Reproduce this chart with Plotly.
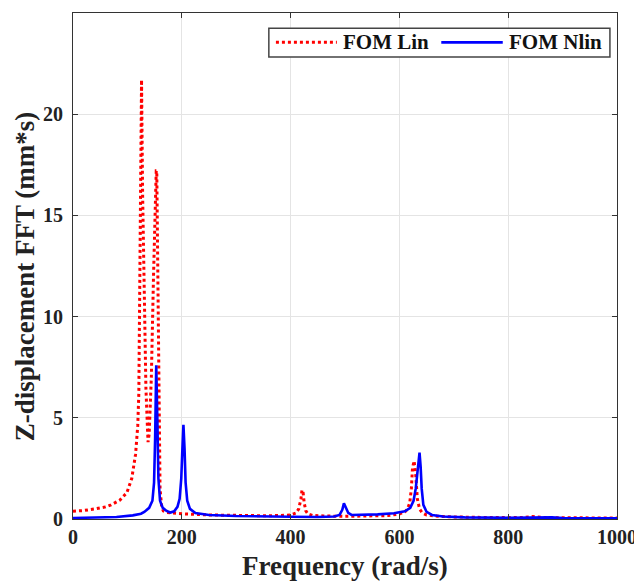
import plotly.graph_objects as go

# FOM Lin (red dotted)
lin_freq = [0, 20, 40, 60, 70, 86, 99, 108, 115, 119, 121, 123.6, 125, 126, 128, 131, 134, 137, 138,
            140, 144, 148, 151, 153, 154, 156, 158, 160, 163, 166, 172, 180, 200, 250, 300, 350, 380,
            400, 410, 415, 419, 421, 423, 425, 428, 432, 440, 460, 500, 550, 580, 600, 610, 615,
            619, 622, 624, 627, 630, 633, 637, 642, 650, 670, 700, 750, 800, 830, 845, 860, 900,
            950, 1000]
lin_val = [0.38, 0.42, 0.5, 0.6, 0.7, 0.93, 1.3, 2.0, 3.2, 4.6, 6.2, 12.8, 18.5, 21.7, 16.0, 10.0, 6.5,
           4.4, 3.8, 4.2, 7.0, 12.0, 16.0, 17.2, 17.2, 12.0, 5.0, 1.5, 0.6, 0.4, 0.32, 0.3, 0.26, 0.2,
           0.17, 0.16, 0.17, 0.2, 0.3, 0.5, 1.0, 1.43, 1.3, 0.8, 0.4, 0.25, 0.18, 0.15, 0.13, 0.14,
           0.17, 0.25, 0.35, 0.5, 0.8, 1.5, 2.5, 2.87, 2.2, 1.0, 0.5, 0.3, 0.2, 0.14, 0.1, 0.08,
           0.07, 0.08, 0.12, 0.08, 0.06, 0.05, 0.05]

# FOM Nlin (blue solid)
nlin_freq = [0, 40, 80, 110, 125, 131, 140, 146, 149, 151, 153, 155, 157, 160, 165, 172, 179, 186,
             192, 196, 199, 201, 203, 205, 207, 210, 215, 225, 250, 300, 350, 400, 450, 480, 490,
             495, 498, 502, 506, 512, 530, 560, 590, 610, 620, 626, 630, 633, 635, 637, 639, 641,
             644, 650, 660, 680, 720, 800, 880, 900, 1000]
nlin_val = [0.05, 0.07, 0.1, 0.18, 0.26, 0.35, 0.55, 0.9, 1.8, 4.0, 7.6, 5.0, 2.0, 0.9, 0.55, 0.4,
            0.32, 0.38, 0.6, 1.0, 2.0, 3.4, 4.65, 3.5, 1.8, 0.9, 0.5, 0.3, 0.2, 0.15, 0.12, 0.11,
            0.1, 0.12, 0.2, 0.45, 0.78, 0.55, 0.3, 0.2, 0.2, 0.23, 0.28, 0.38, 0.55, 0.9, 1.5, 2.3,
            2.9, 3.28, 2.6, 1.5, 0.7, 0.35, 0.2, 0.12, 0.08, 0.06, 0.08, 0.05, 0.04]

x_ticks = [0, 200, 400, 600, 800, 1000]
y_ticks = [0, 5, 10, 15, 20, 25]

LIN_COLOR = '#ff0000'
NLIN_COLOR = '#0000ff'
font_family = "Liberation Serif, Times New Roman, serif"
text_color = '#222222'

fig = go.Figure()

fig.add_trace(go.Scatter(
    x=lin_freq, y=lin_val, mode='lines', name='FOM Lin',
    line=dict(color=LIN_COLOR, width=3, dash='dot'),
))

fig.add_trace(go.Scatter(
    x=nlin_freq, y=nlin_val, mode='lines', name='FOM Nlin',
    line=dict(color=NLIN_COLOR, width=2.6),
))

axis_common = dict(
    showline=True, linecolor='#333333', linewidth=1, mirror='ticks',
    ticks='inside', ticklen=5, tickcolor='#333333',
    showgrid=True, gridcolor='#e4e4e4', gridwidth=1,
    zeroline=False, automargin=False,
    tickfont=dict(family=font_family, size=20, color=text_color),
)

fig.update_xaxes(range=[0, 1000], tickvals=x_ticks,
                 ticktext=[f'<b>{t}</b>' for t in x_ticks], **axis_common)
fig.update_yaxes(range=[0, 25], tickvals=y_ticks,
                 ticktext=[f'<b>{t}</b>' for t in y_ticks], ticklabelstandoff=5, **axis_common)

# axis titles
fig.add_annotation(text='<b>Frequency (rad/s)</b>', xref='paper', yref='paper',
                   x=0.5, y=-0.093, showarrow=False, xanchor='center', yanchor='middle',
                   font=dict(family=font_family, size=27, color=text_color))
fig.add_annotation(text='<b>Z-displacement FFT (mm*s)</b>', xref='paper', yref='paper',
                   x=-0.088, y=0.478, showarrow=False, textangle=-90,
                   xanchor='center', yanchor='middle',
                   font=dict(family=font_family, size=27, color=text_color))

# legend box, drawn by hand so the line samples are as long as in the original
fig.add_shape(type='rect', xref='paper', yref='paper', x0=0.360, x1=0.987, y0=0.913, y1=0.970,
              line=dict(color='#444444', width=1.5), fillcolor='white', layer='above')
fig.add_shape(type='line', xref='paper', yref='paper', x0=0.373, x1=0.485, y0=0.942, y1=0.942,
              line=dict(color=LIN_COLOR, width=3, dash='dot'), layer='above')
fig.add_shape(type='line', xref='paper', yref='paper', x0=0.677, x1=0.790, y0=0.942, y1=0.942,
              line=dict(color=NLIN_COLOR, width=2.6), layer='above')
fig.add_annotation(text='<b>FOM Lin</b>', xref='paper', yref='paper', x=0.492, y=0.942,
                   showarrow=False, xanchor='left', yanchor='middle',
                   font=dict(family=font_family, size=21, color='#111111'))
fig.add_annotation(text='<b>FOM Nlin</b>', xref='paper', yref='paper', x=0.798, y=0.942,
                   showarrow=False, xanchor='left', yanchor='middle',
                   font=dict(family=font_family, size=21, color='#111111'))

# the page adds an 8px body margin, so the figure is 8px smaller on each side
fig.update_layout(
    width=634, height=577,
    margin=dict(l=65, r=25, t=5, b=66),
    plot_bgcolor='white', paper_bgcolor='white',
    showlegend=False,
)

fig.write_html("out.html")
